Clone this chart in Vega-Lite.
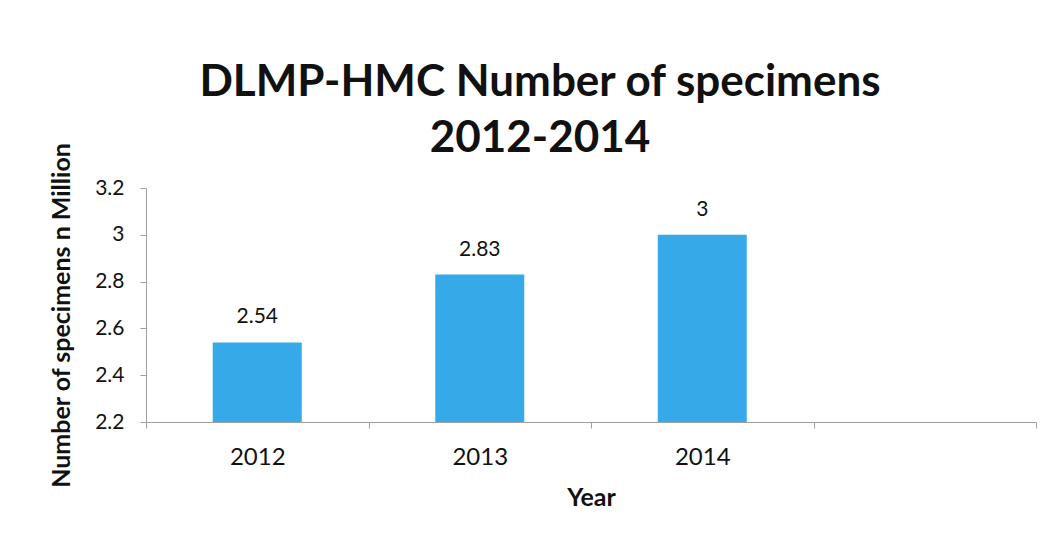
{
  "$schema": "https://vega.github.io/schema/vega-lite/v6.json",
  "autosize": {"type": "none"},
  "width": 890,
  "height": 234,
  "padding": {"left": 146, "top": 188, "right": 24, "bottom": 122},
  "background": "white",
  "config": {
    "view": {"stroke": null},
    "font": "Lato"
  },
  "title": {
    "text": ["DLMP-HMC Number of specimens", "2012-2014"],
    "font": "Lato",
    "fontSize": 44,
    "fontWeight": "bold",
    "color": "#111111",
    "lineHeight": 56,
    "anchor": "middle",
    "dx": -51,
    "offset": -19
  },
  "data": {
    "values": [
      {"Year": "2012", "Specimens": 2.54},
      {"Year": "2013", "Specimens": 2.83},
      {"Year": "2014", "Specimens": 3}
    ]
  },
  "encoding": {
    "x": {
      "field": "Year",
      "type": "nominal",
      "scale": {"domain": ["2012", "2013", "2014", " "], "paddingInner": 0, "paddingOuter": 0},
      "axis": {
        "title": "Year",
        "labelAngle": 0,
        "tickBand": "extent",
        "domainColor": "#a0a0a0",
        "tickColor": "#a0a0a0",
        "tickSize": 6,
        "labelFontSize": 24,
        "labelColor": "#111111",
        "labelPadding": 17,
        "titleFontSize": 25,
        "titleFontWeight": "bold",
        "titleColor": "#111111",
        "titlePadding": 16
      }
    },
    "y": {
      "field": "Specimens",
      "type": "quantitative",
      "scale": {"domain": [2.2, 3.2], "zero": false, "nice": false},
      "axis": {
        "title": "Number of specimens n Million",
        "values": [2.2, 2.4, 2.6, 2.8, 3, 3.2],
        "format": "~g",
        "grid": false,
        "domainColor": "#a0a0a0",
        "tickColor": "#a0a0a0",
        "tickSize": 6,
        "labelFontSize": 21,
        "labelColor": "#111111",
        "labelPadding": 16,
        "titleFontSize": 25,
        "titleFontWeight": "bold",
        "titleColor": "#111111",
        "titlePadding": 20,
        "titleY": 127
      }
    }
  },
  "layer": [
    {
      "mark": {"type": "bar", "color": "#36aae9", "width": {"band": 0.4}},
      "encoding": {"y2": {"datum": 2.2}}
    },
    {
      "mark": {"type": "text", "dy": -19, "baseline": "alphabetic", "fontSize": 21, "color": "#111111"},
      "encoding": {"text": {"field": "Specimens", "type": "quantitative"}}
    }
  ]
}
